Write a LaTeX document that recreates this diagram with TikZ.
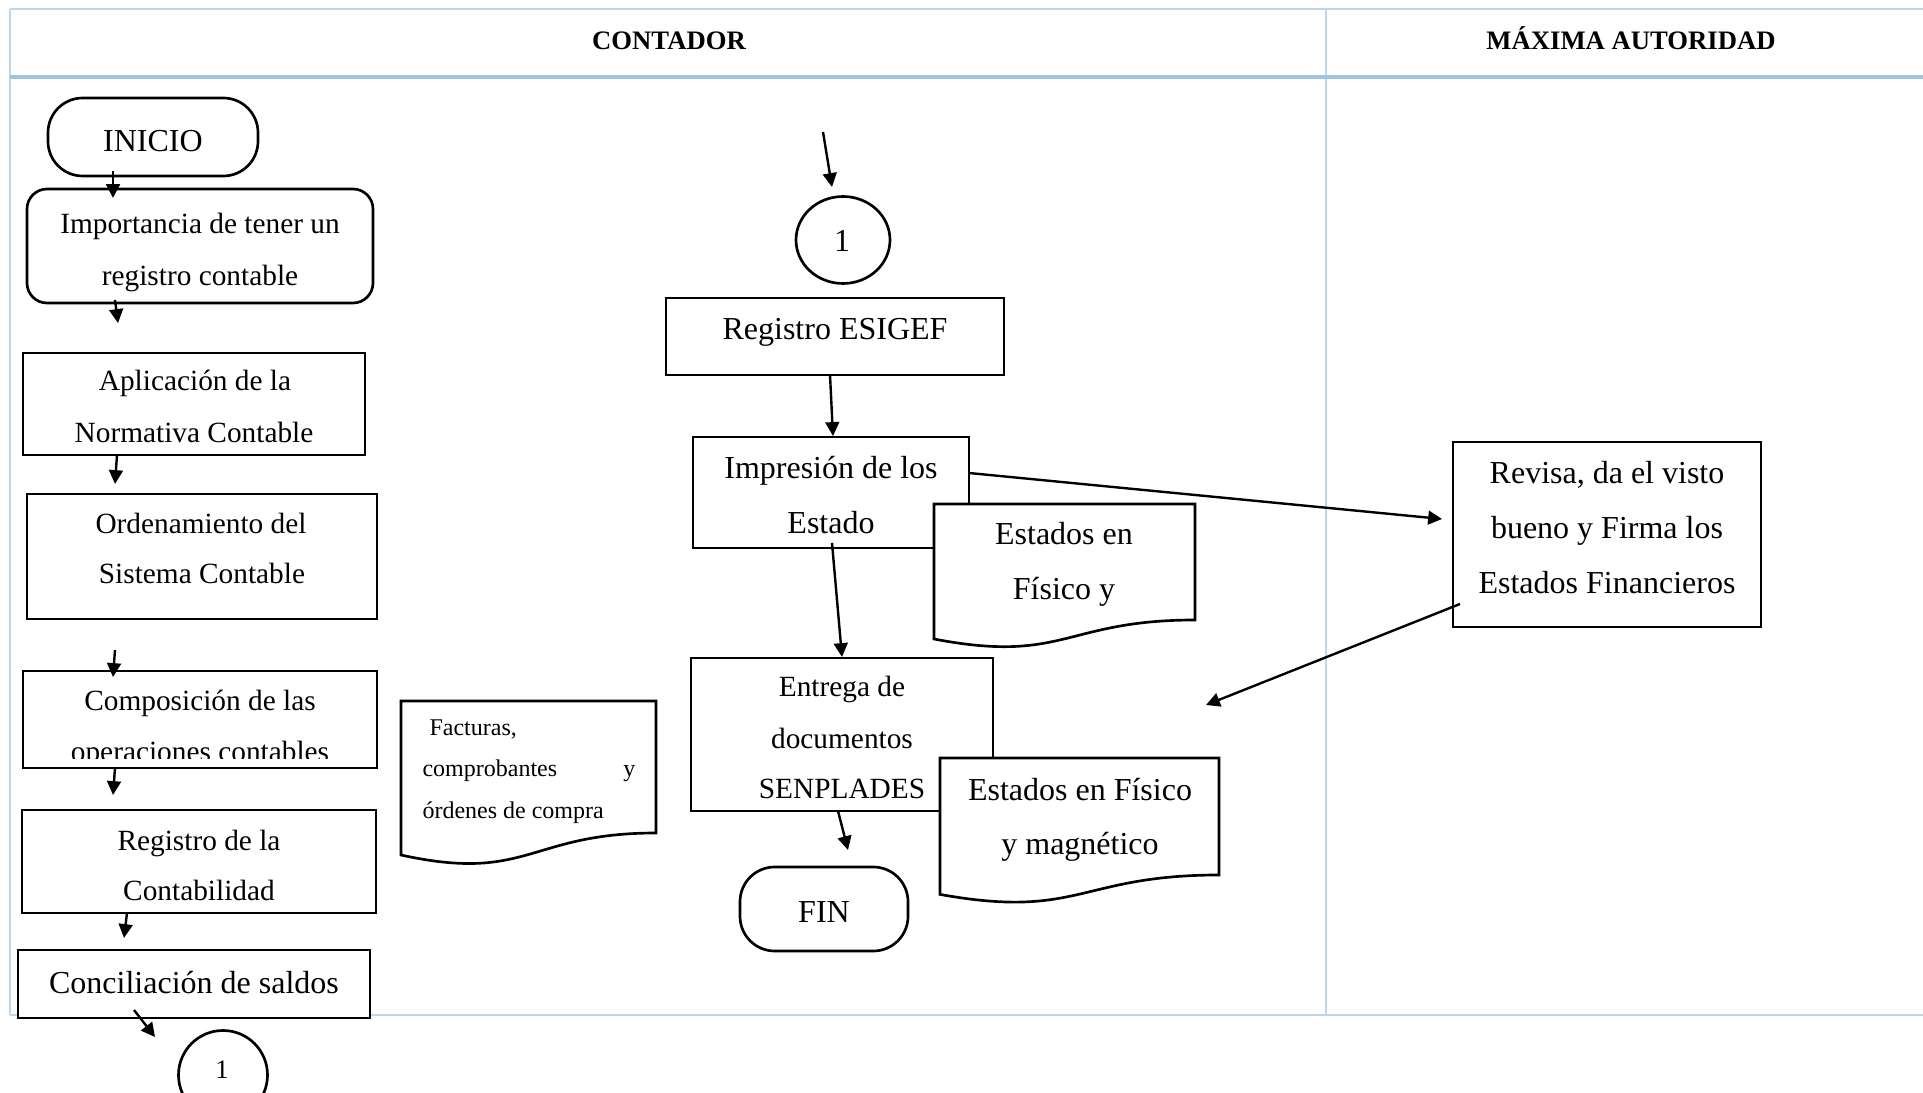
\documentclass[tikz,border=0pt]{standalone}
\usepackage{fontspec}
\setmainfont{Liberation Serif}
\usetikzlibrary{arrows.meta,shapes.geometric}
\definecolor{gridthin}{HTML}{BDD7EE}
\definecolor{gridthick}{HTML}{9DC3E6}
\begin{document}
\begin{tikzpicture}[x=0.375pt,y=-0.375pt,
  gline/.style={draw=gridthin, line width=0.8pt},
  gheavy/.style={draw=gridthick, line width=1.6pt},
  boxs/.style={draw=black, line width=1pt, fill=white, inner sep=0pt, rectangle},
  wh/.style n args={2}{minimum width=#1*0.375pt, minimum height=#2*0.375pt},
  termbox/.style={boxs, rounded corners=13pt},
  softbox/.style={boxs, rounded corners=7.5pt},
  connbox/.style={draw=black, line width=1pt, fill=white, inner sep=0pt, ellipse},
  docshape/.style={draw=black, line width=1pt, fill=white},
  flow/.style={line width=0.9pt, -{Triangle[length=5.2pt,width=5.2pt]}},
  tA/.style={font=\fontsize{12}{14}\selectfont, inner sep=0pt, anchor=base, yshift=-0.75pt},
  tB/.style={font=\fontsize{11}{13}\selectfont, inner sep=0pt, anchor=base, yshift=-0.75pt},
  tC/.style={font=\fontsize{9}{11}\selectfont, inner sep=0pt, yshift=-0.5pt},
  tD/.style={font=\fontsize{10}{12}\selectfont, inner sep=0pt, anchor=base},
  hdr/.style={font=\fontsize{10}{12}\selectfont\bfseries, inner sep=0pt, anchor=base}
]
\useasboundingbox (0,0) rectangle (1923,1093);
\clip (0,0) rectangle (1923,1093);

% ---------- swimlane table ----------
\draw[gline] (10,9) -- (1923,9);
\draw[gline] (10,9) -- (10,1015);
\draw[gline] (1326,9) -- (1326,1015);
\draw[gline] (10,1015) -- (1923,1015);
\draw[gheavy] (10,77) -- (1923,77);
\node[hdr] (hcont) at (669,50) {CONTADOR};
\node[hdr] (hmax) at (1631,50) {MÁXIMA AUTORIDAD};

% ---------- left column ----------
\node[termbox, wh={210}{78}] (inicio) at (153,137) {};
\node[tA] (tinicio) at (153,150) {INICIO};

\node[softbox, wh={346}{114}] (imp) at (200,246) {};
\node[tB] (timp1) at (200,232) {Importancia de tener un};
\node[tB] (timp2) at (200,284) {registro contable};

\node[boxs, wh={342}{102}] (apl) at (194,404) {};
\node[tB] (tapl1) at (195,389) {Aplicación de la};
\node[tB] (tapl2) at (194,441) {Normativa Contable};

\node[boxs, wh={350}{125}] (ord) at (202,556.5) {};
\node[tB] (tord1) at (201,532) {Ordenamiento del};
\node[tB] (tord2) at (202,582) {Sistema Contable};

\node[boxs, wh={354}{97}] (comp) at (200,719.5) {};
\node[tB] (tcomp1) at (200,708) {Composición de las};
\begin{scope}
  \clip (23,671) rectangle (377,758);
  \node[tB] (tcomp2) at (200,760) {operaciones contables};
\end{scope}

\node[boxs, wh={354}{103}] (reg) at (199,861.5) {};
\node[tB] (treg1) at (199,848) {Registro de la};
\node[tB] (treg2) at (199,898) {Contabilidad};

\node[boxs, wh={352}{68}] (conc) at (194,984) {};
\node[tA] (tconc) at (194,991) {Conciliación de saldos};

\node[connbox, wh={89}{89}] (c1b) at (223,1075) {};
\node[tD] (tc1b) at (222,1078) {1};

% Facturas document
\path[docshape] (401,701) -- (656,701) -- (656,833)
  .. controls (528.5,833) and (528.5,883) .. (401,855) -- cycle;
\node[tC, anchor=base west] (tfac1) at (429,734) {Facturas,};
\node[tC, anchor=base west] (tfac2) at (422,775) {comprobantes};
\node[tC, anchor=base east] (tfac3) at (636,775) {y};
\node[tC, anchor=base west] (tfac4) at (422,817) {órdenes de compra};

% ---------- middle column ----------
\node[connbox, wh={94}{87}] (c1t) at (843,240) {};
\node[tA] (tc1t) at (842,250) {1};

\node[boxs, wh={338}{77}] (esigef) at (835,336.5) {};
\node[tA] (tesigef) at (835,337.5) {Registro ESIGEF};

\node[boxs, wh={276}{111}] (impr) at (831,492.5) {};
\node[tA] (timpr1) at (831,477) {Impresión de los};
\node[tA] (timpr2) at (831,532) {Estado};

\path[docshape] (934,504) -- (1195,504) -- (1195,620)
  .. controls (1064.5,620) and (1064.5,664) .. (934,639) -- cycle;
\node[tA] (tdoc1a) at (1064,543) {Estados en};
\node[tA] (tdoc1b) at (1064,598) {Físico y};

\node[boxs, wh={302}{153}] (entrega) at (842,734.5) {};
\node[tB] (tent1) at (842,695) {Entrega de};
\node[tB] (tent2) at (842,746) {documentos};
\node[tB] (tent3) at (842,797) {SENPLADES};

\path[docshape] (940,758) -- (1219,758) -- (1219,875)
  .. controls (1079.5,875) and (1079.5,919.6) .. (940,894.4) -- cycle;
\node[tA] (tdoc2a) at (1080,798) {Estados en Físico};
\node[tA] (tdoc2b) at (1080,852) {y magnético};

\node[termbox, wh={168}{84}] (fin) at (824,909) {};
\node[tA] (tfin) at (824,920) {FIN};

% ---------- right column ----------
\node[boxs, wh={308}{185}] (revisa) at (1607,534.5) {};
\node[tA] (trev1) at (1607,482) {Revisa, da el visto};
\node[tA] (trev2) at (1607,537) {bueno y Firma los};
\node[tA] (trev3) at (1607,592) {Estados Financieros};

% ---------- connectors ----------
\coordinate (a1s) at (113,171);  \coordinate (a1e) at (113,198);
\coordinate (a2s) at (115,300);  \coordinate (a2e) at (118,323);
\coordinate (a3s) at (117,455);  \coordinate (a3e) at (115,484);
\coordinate (a4s) at (115,650);  \coordinate (a4e) at (113,677);
\coordinate (a5s) at (115,768);  \coordinate (a5e) at (113,795);
\coordinate (a6s) at (127,913);  \coordinate (a6e) at (124,938);
\coordinate (a7s) at (134,1010); \coordinate (a7e) at (155,1037);
\coordinate (a8s) at (823,132);  \coordinate (a8e) at (832,187);
\coordinate (a9s) at (830,375);  \coordinate (a9e) at (833,436);
\coordinate (a10s) at (969,473); \coordinate (a10e) at (1442,519);
\coordinate (a11s) at (832,543); \coordinate (a11e) at (842,657);
\coordinate (a12s) at (838,811); \coordinate (a12e) at (848,850);
\coordinate (a13s) at (1460,604); \coordinate (a13e) at (1206,705);

\draw[flow] (a1s) -- (a1e);
\draw[flow] (a2s) -- (a2e);
\draw[flow] (a3s) -- (a3e);
\draw[flow] (a4s) -- (a4e);
\draw[flow] (a5s) -- (a5e);
\draw[flow] (a6s) -- (a6e);
\draw[flow] (a7s) -- (a7e);
\draw[flow] (a8s) -- (a8e);
\draw[flow] (a9s) -- (a9e);
\draw[flow] (a10s) -- (a10e);
\draw[flow] (a11s) -- (a11e);
\draw[flow] (a12s) -- (a12e);
\draw[flow] (a13s) -- (a13e);
\end{tikzpicture}
\end{document}
